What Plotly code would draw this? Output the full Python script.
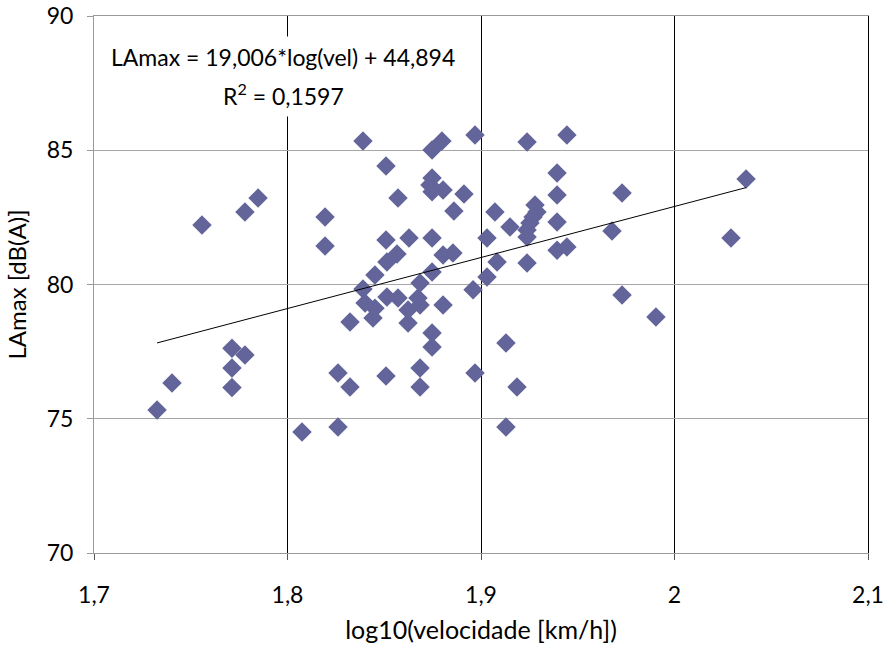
import plotly.graph_objects as go

# log10(speed) values and LAmax values
log_vel = [1.7326, 1.7403, 1.7558, 1.7713, 1.7713, 1.7713, 1.7780, 1.7780, 1.7848, 1.8075,
           1.8194, 1.8194, 1.8261, 1.8261, 1.8323, 1.8323, 1.8390, 1.8390, 1.8401, 1.8452,
           1.8452, 1.8442, 1.8509, 1.8509, 1.8509, 1.8514, 1.8566, 1.8514, 1.8571, 1.8571,
           1.8628, 1.8623, 1.8623, 1.8685, 1.8674, 1.8685, 1.8685, 1.8685, 1.8747, 1.8798,
           1.8747, 1.8736, 1.8747, 1.8804, 1.8747, 1.8747, 1.8747, 1.8747, 1.8804, 1.8855,
           1.8804, 1.8860, 1.8912, 1.8969, 1.8959, 1.8969, 1.9031, 1.9031, 1.9072, 1.9150,
           1.9083, 1.9129, 1.9129, 1.9186, 1.9238, 1.9279, 1.9289, 1.9269, 1.9253, 1.9238,
           1.9238, 1.9238, 1.9393, 1.9393, 1.9393, 1.9393, 1.9444, 1.9444, 1.9677, 1.9729,
           1.9729, 1.9904, 2.0292, 2.0370]
lamax = [75.33, 76.33, 82.22, 77.63, 76.89, 76.16, 82.70, 77.37, 83.22, 74.51,
         82.51, 81.43, 76.70, 74.69, 76.18, 78.60, 85.34, 79.83, 79.31, 80.35,
         79.12, 78.75, 84.41, 81.66, 76.59, 80.84, 81.14, 79.53, 79.50, 83.22,
         81.73, 79.05, 78.57, 80.06, 79.50, 79.24, 76.89, 76.18, 85.01, 85.34,
         83.97, 83.71, 83.45, 83.52, 81.73, 80.47, 78.19, 77.67, 81.10, 81.17,
         79.24, 82.74, 83.37, 85.57, 79.80, 76.70, 81.73, 80.28, 82.70, 82.14,
         80.84, 77.82, 74.69, 76.18, 85.31, 82.96, 82.70, 82.51, 82.29, 82.03,
         81.77, 80.80, 84.15, 83.33, 82.33, 81.28, 81.40, 85.57, 81.99, 83.41,
         79.61, 78.79, 81.73, 83.93]

slope = 19.006
intercept = 44.894
eq_text = "LAmax = 19,006*log(vel) + 44,894"
r2_text = "R<sup>2</sup> = 0,1597"

x_ticks = [1.7, 1.8, 1.9, 2.0, 2.1]
x_ticklabels = ["1,7", "1,8", "1,9", "2", "2,1"]
y_ticks = [70, 75, 80, 85, 90]

FONT = "Lato, 'Open Sans', sans-serif"

x_line = [min(log_vel), max(log_vel)]
y_line = [slope * v + intercept for v in x_line]

fig = go.Figure()
fig.add_trace(go.Scatter(
    x=log_vel, y=lamax, mode="markers",
    marker=dict(symbol="diamond", size=15, color="#63659a", line=dict(width=0)),
    showlegend=False, hoverinfo="x+y"))
fig.add_trace(go.Scatter(
    x=x_line, y=y_line, mode="lines",
    line=dict(color="black", width=1), showlegend=False, hoverinfo="skip"))
# invisible trace on a right axis used only to draw the right frame line
fig.add_trace(go.Scatter(x=[None], y=[None], yaxis="y2", showlegend=False, hoverinfo="skip"))

fig.update_layout(
    width=885, height=647,
    margin=dict(l=94, r=17, t=16, b=94),
    paper_bgcolor="white", plot_bgcolor="white",
    font=dict(family=FONT, size=23, color="black"),
    xaxis=dict(
        range=[1.7, 2.1], tickmode="array", tickvals=x_ticks, ticktext=x_ticklabels,
        showgrid=True, gridcolor="black", gridwidth=1,
        showline=True, linecolor="#9a9a9a", linewidth=1, mirror=True,
        ticks="outside", ticklen=6, tickcolor="#555555",
        zeroline=False, tickfont=dict(size=23), automargin=False,
        ticklabelstandoff=15, ticklabeloverflow="allow",
        title=dict(text="log10(velocidade [km/h])", font=dict(size=25), standoff=14)),
    yaxis=dict(
        range=[70, 90], tickmode="array", tickvals=y_ticks,
        showgrid=True, gridcolor="#a6a6a6", gridwidth=1,
        showline=True, linecolor="#9a9a9a", linewidth=1,
        ticks="outside", ticklen=6, tickcolor="#9a9a9a",
        zeroline=False, tickfont=dict(size=23), automargin=False,
        ticklabelstandoff=9, ticklabeloverflow="allow",
        title=dict(text="LAmax [dB(A)]", font=dict(size=24), standoff=13)),
    yaxis2=dict(
        overlaying="y", side="right", range=[70, 90], showgrid=False,
        showticklabels=False, ticks="", showline=True, linecolor="black",
        linewidth=1, zeroline=False, automargin=False),
    annotations=[
        dict(x=1.7977, y=88.47, xref="x", yref="y", text=eq_text,
             showarrow=False, align="center", bgcolor="white", borderpad=6,
             font=dict(family=FONT, size=23, color="black")),
        dict(x=1.7977, y=87.06, xref="x", yref="y", text=r2_text,
             showarrow=False, align="center", bgcolor="white", borderpad=6,
             font=dict(family=FONT, size=23, color="black")),
    ],
)

fig.write_html("out.html", config={"displayModeBar": False},
               post_script="document.body.style.margin='0';")
